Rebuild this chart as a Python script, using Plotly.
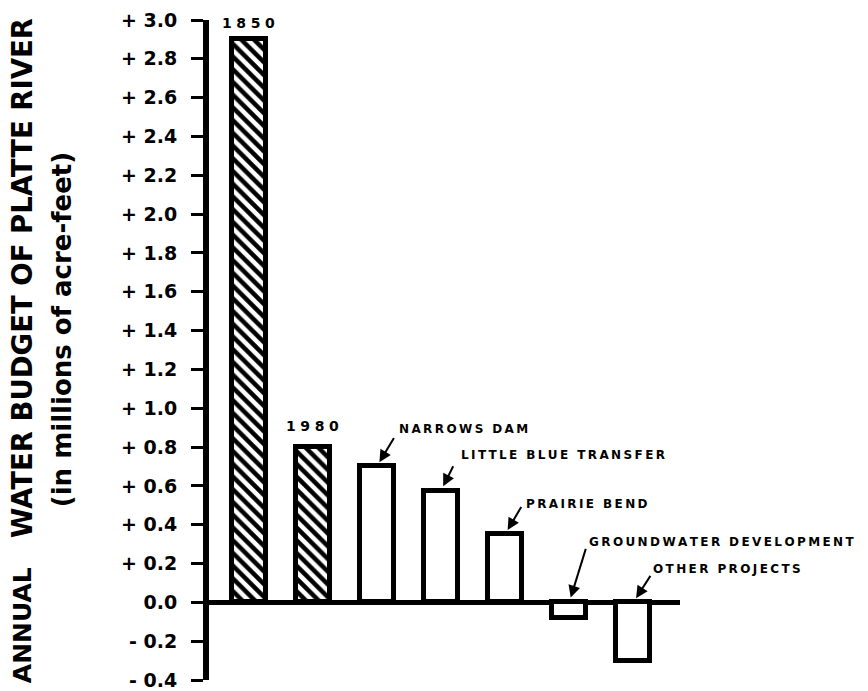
import plotly.graph_objects as go

# ---- data ----
categories = ["1850", "1980", "NARROWS DAM", "LITTLE BLUE TRANSFER",
              "PRAIRIE BEND", "GROUNDWATER DEVELOPMENT", "OTHER PROJECTS"]
values = [2.9, 0.8, 0.7, 0.575, 0.35, -0.08, -0.3]
hatched = [True, True, False, False, False, False, False]
tick_vals = [3.0, 2.8, 2.6, 2.4, 2.2, 2.0, 1.8, 1.6, 1.4, 1.2, 1.0,
             0.8, 0.6, 0.4, 0.2, 0.0, -0.2, -0.4]
tick_labels = ["+ 3.0", "+ 2.8", "+ 2.6", "+ 2.4", "+ 2.2", "+ 2.0", "+ 1.8",
               "+ 1.6", "+ 1.4", "+ 1.2", "+ 1.0", "+ 0.8", "+ 0.6", "+ 0.4",
               "+ 0.2", "0.0", "- 0.2", "- 0.4"]
title_main = "WATER BUDGET OF PLATTE RIVER"
title_first = "ANNUAL"
title_units = "(in millions of acre-feet)"

# ---- styling ----
FONT = "DejaVu Sans"
SEP_YEAR = "\u2004"   # three-per-em space used as letter spacing
SEP_LABEL = "\u2009"  # thin space used as letter spacing


def spaced(text, sep):
    return sep.join(list(text))


x_idx = list(range(len(categories)))

fig = go.Figure()
fig.add_trace(go.Bar(
    x=x_idx, y=values, width=0.53,
    marker=dict(
        color="white",
        line=dict(color="black", width=5),
        pattern=dict(shape=["\\" if h else "" for h in hatched],
                     fgcolor="black", fgopacity=1, bgcolor="white",
                     size=9, solidity=0.5),
    ),
    showlegend=False, hoverinfo="skip",
))

annotations = []
# year labels above hatched bars
year_shift = [6, 11]
for i, (c, v, h) in enumerate(zip(categories, values, hatched)):
    if h:
        annotations.append(dict(
            x=i, y=v, xref="x", yref="y", text=spaced(c, SEP_YEAR),
            showarrow=False, yanchor="bottom", yshift=year_shift[i],
            font=dict(family=FONT, size=14, color="black", weight="bold")))

# project labels with arrows (offsets in pixels)
text_off = {2: (20, 37), 3: (18, 36), 4: (19, 30), 5: (18, 60), 6: (18, 33)}
arrow_off = {2: (18, -30), 3: (13, -26), 4: (17, -29), 5: (17, -55), 6: (18, -28)}
for i, (c, v, h) in enumerate(zip(categories, values, hatched)):
    if h:
        continue
    yv = max(v, 0)
    tx, ty = text_off[i]
    annotations.append(dict(
        x=i, y=yv, xref="x", yref="y", text=spaced(c, SEP_LABEL),
        showarrow=False, xanchor="left", yanchor="middle",
        xshift=tx, yshift=ty,
        font=dict(family=FONT, size=12, color="black", weight="bold")))
    ax, ay = arrow_off[i]
    annotations.append(dict(
        x=i, y=yv, xref="x", yref="y", text="",
        showarrow=True, ax=ax, ay=ay, axref="pixel", ayref="pixel",
        arrowhead=2, arrowsize=1.2, arrowwidth=2, arrowcolor="black",
        standoff=5))

# axis titles (rotated)
annotations.append(dict(
    x=0, y=0.609, xref="paper", yref="paper", xshift=-187,
    text=title_main, textangle=-90, showarrow=False,
    xanchor="center", yanchor="middle",
    font=dict(family=FONT, size=27.5, color="black", weight="bold")))
annotations.append(dict(
    x=0, y=0.083, xref="paper", yref="paper", xshift=-187,
    text=title_first, textangle=-90, showarrow=False,
    xanchor="center", yanchor="middle",
    font=dict(family=FONT, size=25, color="black", weight="bold")))
annotations.append(dict(
    x=0, y=0.530, xref="paper", yref="paper", xshift=-147,
    text=title_units, textangle=-90, showarrow=False,
    xanchor="center", yanchor="middle",
    font=dict(family=FONT, size=26, color="black", weight="bold")))

fig.update_layout(
    width=868, height=691,
    margin=dict(l=201, r=196, t=12, b=19, autoexpand=False),
    paper_bgcolor="white", plot_bgcolor="white",
    bargap=0,
    annotations=annotations,
    xaxis=dict(range=[-0.617, 6.727], showgrid=False, showline=False,
               showticklabels=False, ticks="", zeroline=False,
               automargin=False),
    yaxis=dict(range=[-0.4, 3.0], tickvals=tick_vals, ticktext=tick_labels,
               showgrid=False, showline=True, linewidth=6, linecolor="black",
               ticks="outside", ticklen=12, tickwidth=3, tickcolor="black",
               zeroline=True, zerolinewidth=5, zerolinecolor="black",
               ticklabelstandoff=10, automargin=False,
               tickfont=dict(family=FONT, size=19, color="black", weight="bold")),
)

fig.write_html("out.html")
